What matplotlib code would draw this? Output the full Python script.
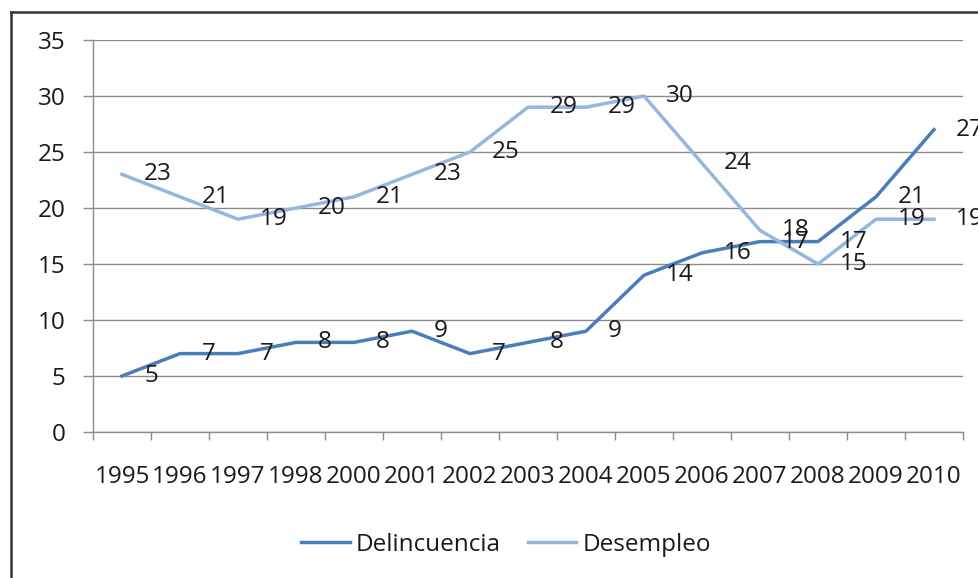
import matplotlib
matplotlib.use('Agg')
import matplotlib.pyplot as plt
import numpy as np

years = ['1995','1996','1997','1998','2000','2001','2002','2003','2004','2005','2006','2007','2008','2009','2010']
delincuencia = [5,7,7,8,8,9,7,8,9,14,16,17,17,21,27]
desempleo = [23,21,19,20,21,23,25,29,29,30,24,18,15,19,19]

plt.rcParams['font.family'] = ['Open Sans', 'DejaVu Sans']
plt.rcParams['font.size'] = 17.5
txt = '#1a1a1a'
grey = '#8c8c8c'

fig = plt.figure(figsize=(9.79, 5.78), dpi=100)
ax = fig.add_axes([93/979, 1-432/578, (963-93)/979, (432-40)/578])

x = np.arange(len(years))
ax.plot(x, delincuencia, color='#4A7EBB', lw=2.5, label='Delincuencia', zorder=3)
ax.plot(x, desempleo, color='#95B6DF', lw=2.5, label='Desempleo', zorder=3)

# data labels to the right of each point
for xi, v in zip(x, delincuencia):
    ax.annotate(str(v), (xi, v), xytext=(16, 0), textcoords='offset points',
                ha='left', va='center', color=txt, annotation_clip=False, zorder=4)
for xi, v in zip(x, desempleo):
    ax.annotate(str(v), (xi, v), xytext=(16, 0), textcoords='offset points',
                ha='left', va='center', color=txt, annotation_clip=False, zorder=4)

ax.set_xlim(-0.5, len(years)-0.5)
ax.set_ylim(0, 35)
ax.set_yticks(range(0, 36, 5))
ax.yaxis.grid(True, color=grey, lw=1)
ax.set_axisbelow(True)

ax.set_xticks(np.arange(-0.5, len(years), 1))
ax.set_xticklabels([])
ax.set_xticks(x, minor=True)
ax.set_xticklabels(years, minor=True)
ax.tick_params(axis='x', which='major', length=6, width=1, color=grey, direction='out')
ax.tick_params(axis='x', which='minor', length=0, pad=24, labelcolor=txt)
ax.tick_params(axis='y', length=7, width=1, color=grey, pad=13, labelcolor=txt)

for s in ['top', 'right']:
    ax.spines[s].set_visible(False)
for s in ['left', 'bottom']:
    ax.spines[s].set_color(grey)
    ax.spines[s].set_linewidth(1)

fig.legend(loc='center', bbox_to_anchor=(506/979, 1-545/578), ncol=2, frameon=False,
           handlelength=2.0, handletextpad=0.25, columnspacing=1.1, labelcolor=txt)

# outer chart frame (cut off at right and bottom)
fig.add_artist(plt.Line2D([11/979, 11/979], [0, 1-12/578], color='#333333', lw=1.8))
fig.add_artist(plt.Line2D([11/979, 1], [1-12/578, 1-12/578], color='#333333', lw=1.8))

fig.savefig('out.png', dpi=100)
